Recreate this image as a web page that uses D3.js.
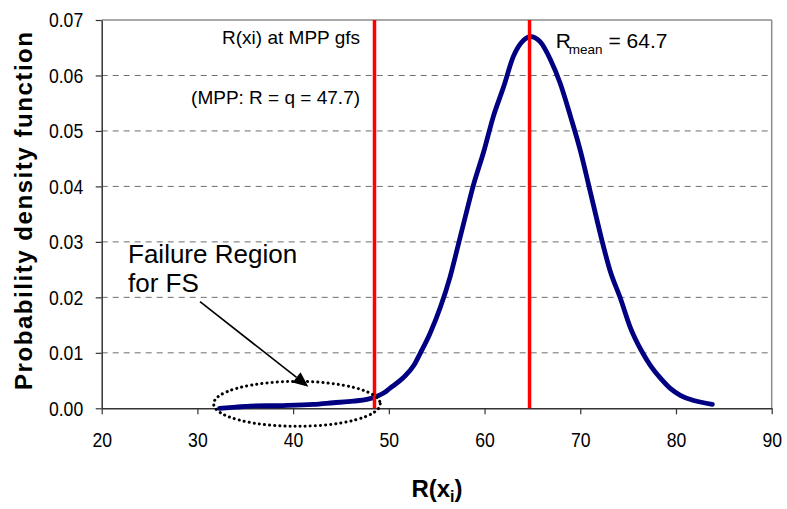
<!DOCTYPE html>
<html><head><meta charset="utf-8">
<script src="https://cdn.jsdelivr.net/npm/d3@7"></script>
<style>
body{margin:0;background:#fff}
text{font-family:"Liberation Sans",Arial,Helvetica,sans-serif;fill:#000}
</style>
</head><body>
<svg id="c" width="787" height="509"></svg>
<script>
// ---- data ----
const rValues = [32.3,34.0,35.5,38.9,42.1,44.2,46.3,47.7,48.8,49.5,50.1,51.5,52.6,53.3,54.3,55.4,56.4,57.3,58.1,58.8,59.9,60.9,62.0,63.0,64.1,64.8,65.8,66.9,67.9,69.0,70.0,71.05,71.6,72.3,73.1,74.2,75.2,76.45,77.3,78.4,79.4,80.5,81.85,82.9,83.8];
const pdfValues = [0.0000,0.0002,0.0004,0.0005,0.0007,0.0010,0.0013,0.0016,0.0022,0.0028,0.0036,0.0055,0.0077,0.0100,0.0135,0.0183,0.0237,0.0298,0.0353,0.0400,0.0462,0.0525,0.0580,0.0634,0.0664,0.0670,0.0661,0.0628,0.0586,0.0525,0.0465,0.0390,0.0350,0.0300,0.0249,0.0198,0.0147,0.0102,0.0078,0.0054,0.0036,0.0023,0.0014,0.0010,0.0007];
const xTicks = [20,30,40,50,60,70,80,90];
const yTicks = [0,0.01,0.02,0.03,0.04,0.05,0.06,0.07];
const mppLineValue = 48.5;
const meanLineValue = 64.7;
const yTitle = "Probability density function";
const annMpp1 = "R(xi) at MPP gfs";
const annMpp2 = "(MPP: R = q = 47.7)";
const annFail = ["Failure Region","for FS"];

// ---- layout ----
const L = 101.7, R = 771.7, T = 20, B = 408.3;
const svg = d3.select("#c");
const x = d3.scaleLinear().domain([20,90]).range([L,R]);
const y = d3.scaleLinear().domain([0,0.07]).range([B,T]);

// gridlines
svg.append("g").selectAll("line").data(yTicks.filter(v=>v>0 && v<0.07)).join("line")
  .attr("x1",L).attr("x2",R).attr("y1",d=>y(d)).attr("y2",d=>y(d))
  .attr("stroke","#6e6e6e").attr("stroke-width",1).attr("stroke-dasharray","6,5");
// top & right border
svg.append("line").attr("x1",L).attr("x2",R).attr("y1",y(0.07)).attr("y2",y(0.07))
  .attr("stroke","#8c8c8c").attr("stroke-width",1.5);
svg.append("line").attr("x1",R).attr("x2",R).attr("y1",T).attr("y2",B)
  .attr("stroke","#8c8c8c").attr("stroke-width",1.5);

// axes
const yAxis = svg.append("g").attr("transform",`translate(${L},0)`)
  .call(d3.axisLeft(y).tickValues(yTicks).tickFormat(d3.format(".2f")).tickSize(6).tickPadding(16).tickSizeOuter(0));
const xAxis = svg.append("g").attr("transform",`translate(0,${B})`)
  .call(d3.axisBottom(x).tickValues(xTicks).tickFormat(d3.format("d")).tickSize(6).tickPadding(18).tickSizeOuter(0));
[yAxis,xAxis].forEach(a=>{
  a.select(".domain").attr("stroke","#333").attr("stroke-width",1.5);
  a.selectAll(".tick line").attr("stroke","#333").attr("stroke-width",1.2);
  a.selectAll(".tick text").attr("font-size",21).attr("fill","#000")
    .attr("font-family",'"Liberation Sans",Arial,sans-serif')
    .attr("transform","scale(0.84,1)");
});

// curve
const pts = rValues.map((r,i)=>[r,pdfValues[i]]);
svg.append("path").datum(pts)
  .attr("d",d3.line().x(d=>x(d[0])).y(d=>y(d[1])).curve(d3.curveMonotoneX))
  .attr("fill","none").attr("stroke","#000080").attr("stroke-width",4.8)
  .attr("stroke-linejoin","round").attr("stroke-linecap","round");

// red vertical lines
svg.append("g").selectAll("line").data([mppLineValue,meanLineValue]).join("line")
  .attr("x1",d=>x(d)).attr("x2",d=>x(d)).attr("y1",T).attr("y2",B)
  .attr("stroke","#ff0000").attr("stroke-width",3.5);

// dotted ellipse (failure region)
const ecx = 40.4, erx = 8.7, ecy = 0.0008, ery = 0.00405;
svg.append("ellipse")
  .attr("cx",x(ecx)).attr("cy",y(ecy))
  .attr("rx",x(ecx+erx)-x(ecx)).attr("ry",y(0)-y(ery))
  .attr("fill","none").attr("stroke","#000").attr("stroke-width",3)
  .attr("stroke-dasharray","0.1,5").attr("stroke-linecap","round");

// arrow
const a0 = [30.27,0.01922], a1 = [41.59,0.00389];
const ax0 = x(a0[0]), ay0 = y(a0[1]), ax1 = x(a1[0]), ay1 = y(a1[1]);
const ang = Math.atan2(ay1-ay0, ax1-ax0);
const hl = 15, hw = 6.5;
const bx = ax1 - hl*Math.cos(ang), by = ay1 - hl*Math.sin(ang);
svg.append("line").attr("x1",ax0).attr("y1",ay0).attr("x2",bx).attr("y2",by)
  .attr("stroke","#000").attr("stroke-width",1.6);
svg.append("path")
  .attr("d",`M${ax1},${ay1}L${bx - hw*Math.sin(ang)},${by + hw*Math.cos(ang)}L${bx + hw*Math.sin(ang)},${by - hw*Math.cos(ang)}Z`)
  .attr("fill","#000");

// annotations
svg.append("text").attr("x",x(46.99)).attr("y",y(0.06568)).attr("text-anchor","end")
  .attr("font-size",19).text(annMpp1);
svg.append("text").attr("x",x(46.99)).attr("y",y(0.05485)).attr("text-anchor","end")
  .attr("font-size",19).text(annMpp2);
const rm = svg.append("text").attr("x",x(67.43)).attr("y",y(0.06495)).attr("font-size",21);
rm.append("tspan").text("R");
rm.append("tspan").attr("font-size",13.5).attr("dy",6).attr("dx",-2).text("mean");
rm.append("tspan").attr("dy",-6).text(" = 64.7");
svg.append("text").attr("font-size",26).attr("x",x(22.75)).attr("y",y(0.02619)).text(annFail[0]);
svg.append("text").attr("font-size",26).attr("x",x(22.75)).attr("y",y(0.02097)).text(annFail[1]);

// axis titles
svg.append("text").attr("transform","translate(32,211) rotate(-90)")
  .attr("text-anchor","middle").attr("font-weight","bold").attr("font-size",24)
  .attr("textLength",358).attr("lengthAdjust","spacing").text(yTitle);
const xt = svg.append("text").attr("x",437).attr("y",497).attr("text-anchor","middle")
  .attr("font-weight","bold").attr("font-size",24);
xt.append("tspan").text("R(x");
xt.append("tspan").attr("font-size",16).attr("dy",5).text("i");
xt.append("tspan").attr("dy",-5).text(")");
</script>
</body></html>
